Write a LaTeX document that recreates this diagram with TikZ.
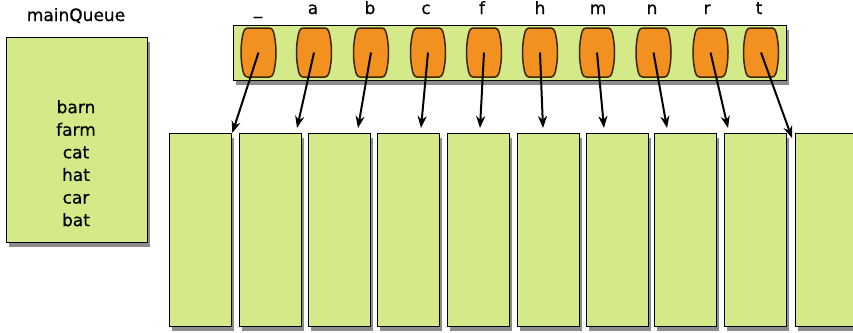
\documentclass[tikz,border=0pt]{standalone}
\usepackage{fontspec}
\setmainfont{DejaVu Sans}[FakeBold=0.6]
\usetikzlibrary{arrows.meta,shadows}
\definecolor{boxgreen}{RGB}{212,233,135}
\definecolor{caporange}{RGB}{242,144,32}
\definecolor{capedge}{RGB}{60,38,10}
\begin{document}
\begin{tikzpicture}[x=1pt,y=-1pt,
  greenbox/.style={draw=black, line width=1.3pt, fill=boxgreen, inner sep=0pt,
    drop shadow={shadow xshift=2.5pt, shadow yshift=-4pt, opacity=0.45, fill=black}},
  bucket/.style={greenbox, minimum width=62pt, minimum height=193pt, anchor=north west},
  capnode/.style={inner sep=0pt, minimum width=35pt, minimum height=49pt},
  capsule/.style={draw=capedge, line width=1.5pt, fill=caporange},
  lbl/.style={font=\fontsize{17}{20}\selectfont, anchor=base, inner sep=0pt},
  conn/.style={line width=2pt, -{Stealth[length=12pt,width=9pt]}}]
\useasboundingbox (0,0) rectangle (853,332);

% main queue
\node[lbl] (title) at (76,21) {mainQueue};
\node[greenbox, minimum width=141pt, minimum height=205pt, anchor=north west] (main) at (6,37) {};
\node[font=\fontsize{17}{22.6}\selectfont, align=center, inner sep=0pt, anchor=north] (words) at (76,100) {barn\\farm\\cat\\hat\\car\\bat};

% top bar
\node[greenbox, minimum width=553pt, minimum height=55pt, anchor=north west] (bar) at (233,25) {};

\foreach \i/\x/\lx/\l in {1/258.5/258/\_, 2/314/313/a, 3/371/370/b, 4/428/426/c, 5/484/482/f,
    6/540/540/h, 7/597/598/m, 8/653.5/652/n, 9/710.5/707/r, 10/761/759/t} {
  \node[capnode] (k\i) at (\x,52.5) {};
  \draw[capsule, shift={(\x,52.5)}] (-11,-24.5) -- (11,-24.5)
    .. controls (14.5,-24.5) and (15.5,-19) .. (16,-16)
    .. controls (18,-6) and (18,6) .. (16,16)
    .. controls (15.5,19) and (14.5,24.5) .. (11,24.5) -- (-11,24.5)
    .. controls (-14.5,24.5) and (-15.5,19) .. (-16,16)
    .. controls (-18,6) and (-18,-6) .. (-16,-16)
    .. controls (-15.5,-19) and (-14.5,-24.5) .. (-11,-24.5) -- cycle;
  \node[lbl] (l\i) at (\lx,14) {\l};
}

% buckets
\foreach \i/\x in {1/169, 2/239, 3/308, 4/377, 5/447, 6/517, 7/586, 8/654, 9/724, 10/795} {
  \node[bucket] (b\i) at (\x,133) {};
}

% arrow ends
\coordinate (e1) at (b1.north east);
\coordinate (e2) at (297,128);
\coordinate (e3) at (358,128);
\coordinate (e4) at (421,128);
\coordinate (e5) at (480,128);
\coordinate (e6) at (543,128);
\coordinate (e7) at (604,128);
\coordinate (e8) at (667,128);
\coordinate (e9) at (728,128);
\coordinate (e10) at (792,138);

\foreach \i in {1,...,10} {
  \draw[conn] (k\i.center) -- (e\i);
}
\end{tikzpicture}
\end{document}
